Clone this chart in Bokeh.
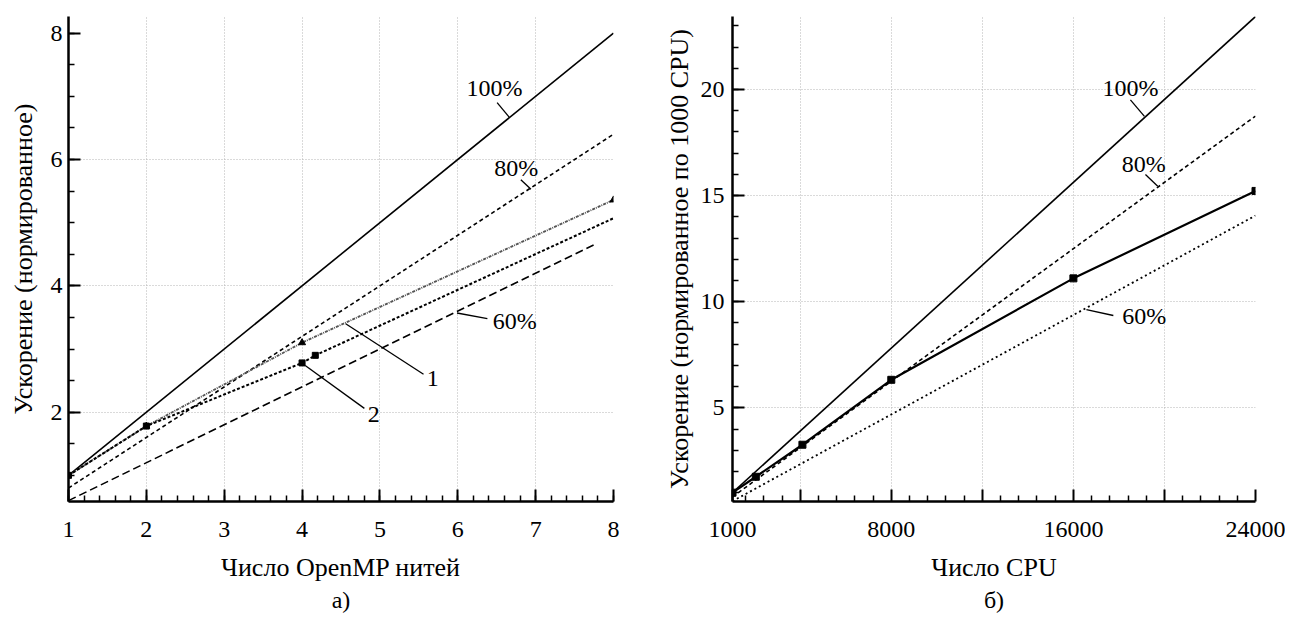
from bokeh.plotting import figure
from bokeh.layouts import row
from bokeh.models import FixedTicker, Title, Range1d
from bokeh.core.properties import value
from bokeh.embed import file_html
from bokeh.resources import INLINE
import numpy as np

FONT = "Liberation Serif"

# ---------------- panel а) : OpenMP threads ----------------
omp_threads_1 = [1, 2, 4, 8]
speedup_1 = [1.0, 1.78, 3.10, 5.36]
omp_threads_2 = [1, 2, 4, 4.17, 8]
speedup_2 = [1.0, 1.78, 2.78, 2.90, 5.07]
ideal_a_x = [1, 8]
ideal_a_100 = [1.0, 8.0]
ideal_a_80 = [0.8, 6.4]
ideal_a_60_x = [1, 7.75]
ideal_a_60 = [0.6, 4.65]
a_xticks = [1, 2, 3, 4, 5, 6, 7, 8]
a_yticks = [2, 4, 6, 8]
a_labels = ["100%", "80%", "60%", "1", "2"]
a_label_x = [6.47, 6.75, 6.73, 5.68, 4.92]
a_label_y = [7.13, 5.86, 3.45, 2.54, 1.97]
a_lead_x0 = [6.505, 6.81, 5.99, 4.56, 4.04]
a_lead_y0 = [6.90, 5.68, 3.57, 3.40, 2.74]
a_lead_x1 = [6.66, 6.94, 6.38, 5.56, 4.80]
a_lead_y1 = [6.67, 5.53, 3.48, 2.60, 2.06]

# ---------------- panel б) : CPU count ----------------
cpu_count = [1024, 2048, 4096, 8000, 16000, 24000]
speedup_cpu = [1.0, 1.75, 3.26, 6.32, 11.1, 15.22]
ideal_b_x = [1024, 24000]
ideal_b_100 = [1.0, 23.44]
ideal_b_80 = [0.8, 18.75]
ideal_b_60 = [0.6, 14.06]
b_xticks = [1024, 4000, 8000, 12000, 16000, 20000, 24000]
b_xtick_labels = {1024: "1000", 4000: "", 8000: "8000", 12000: "", 16000: "16000", 20000: "", 24000: "24000"}
b_yticks = [5, 10, 15, 20]
b_labels = ["100%", "80%", "60%"]
b_label_x = [18505, 19090, 19110]
b_label_y = [20.08, 16.5, 9.35]
b_lead_x0 = [18505, 19165, 16571]
b_lead_y0 = [19.51, 15.99, 9.63]
b_lead_x1 = [19121, 19705, 17754]
b_lead_y1 = [18.73, 15.44, 9.35]


def style_axis(ax, label_standoff, tick_standoff):
    ax.axis_line_width = 2.5
    ax.axis_line_color = "black"
    ax.major_tick_line_width = 2
    ax.major_tick_line_color = "black"
    ax.minor_tick_line_width = 1.5
    ax.minor_tick_line_color = "black"
    ax.major_tick_in = 12
    ax.major_tick_out = 0
    ax.minor_tick_in = 6
    ax.minor_tick_out = 0
    ax.major_label_text_font = FONT
    ax.major_label_text_font_size = "24px"
    ax.major_label_text_color = "black"
    ax.major_label_standoff = tick_standoff
    ax.axis_label_text_font = FONT
    ax.axis_label_text_font_size = "26px"
    ax.axis_label_text_font_style = "normal"
    ax.axis_label_text_color = "black"
    ax.axis_label_standoff = label_standoff


def style_grid(p, xt, yt):
    for g, t in ((p.xgrid, xt), (p.ygrid, yt)):
        g.ticker = FixedTicker(ticks=t)
        g.grid_line_color = "#b5b5b5"
        g.grid_line_dash = "1 2"
        g.grid_line_width = 1


def make_fig(left, frame_w, right, xr, yr):
    p = figure(width=left + frame_w + right, height=615,
               x_range=xr, y_range=yr,
               output_backend="svg", toolbar_location=None,
               min_border_left=left, min_border_right=right,
               min_border_top=16, min_border_bottom=114)
    p.outline_line_color = None
    p.background_fill_color = "white"
    p.border_fill_color = "white"
    return p


def caption(p, txt):
    t = Title(text=txt, align="center", text_font=FONT, text_font_size="24px",
              text_font_style="normal", text_color="black", standoff=0, offset=0)
    p.add_layout(t, "below")


# ---------- left figure ----------
p1 = make_fig(68, 545, 20, Range1d(1, 8), Range1d(0.586, 8.264))
p1.xaxis.ticker = FixedTicker(ticks=a_xticks,
                              minor_ticks=list(np.round(np.arange(1, 8.0001, 0.2), 3)))
p1.yaxis.ticker = FixedTicker(ticks=a_yticks,
                              minor_ticks=list(np.arange(1, 8.001, 0.5)))
p1.xaxis.axis_label = "Число OpenMP нитей"
p1.yaxis.axis_label = "Ускорение (нормированное)"
style_axis(p1.xaxis[0], 13, 20)
style_axis(p1.yaxis[0], 10, 6)
style_grid(p1, a_xticks[1:], a_yticks[:-1])

p1.line(ideal_a_x, ideal_a_100, line_color="black", line_width=1.6)
p1.line(ideal_a_x, ideal_a_80, line_color="black", line_width=1.6, line_dash="4 3")
p1.line(ideal_a_60_x, ideal_a_60, line_color="black", line_width=1.6, line_dash="8 4")
p1.line(omp_threads_1, speedup_1, line_color="#555555", line_width=1.8, line_dash="3 1 1 1")
p1.line(omp_threads_2, speedup_2, line_color="black", line_width=2, line_dash="3 2")
p1.scatter(omp_threads_1[1:], speedup_1[1:], marker="triangle", size=7,
           fill_color="black", line_color="black")
p1.scatter(omp_threads_2[:4], speedup_2[:4], marker="square", size=6,
           fill_color="black", line_color="black")
p1.segment(a_lead_x0, a_lead_y0, a_lead_x1, a_lead_y1, line_color="black", line_width=1.3)
p1.text(a_label_x, a_label_y, text=a_labels, text_font=value(FONT),
        text_font_size="24px", text_align="center", text_baseline="middle",
        text_color="black")
caption(p1, "а)")

# ---------- right figure ----------
p2 = make_fig(99, 523, 30, Range1d(1024, 24000), Range1d(0.585, 23.44))
b_minor = [v for v in range(1600, 24000, 800) if v % 4000 != 0]
p2.xaxis.ticker = FixedTicker(ticks=b_xticks, minor_ticks=b_minor)
p2.xaxis.major_label_overrides = b_xtick_labels
p2.yaxis.ticker = FixedTicker(ticks=b_yticks, minor_ticks=list(range(1, 24)))
p2.xaxis.axis_label = "Число CPU"
p2.yaxis.axis_label = "Ускорение (нормированное по 1000 CPU)"
style_axis(p2.xaxis[0], 13, 20)
style_axis(p2.yaxis[0], 4, 8)
style_grid(p2, b_xticks[1:], b_yticks)

p2.line(ideal_b_x, ideal_b_100, line_color="black", line_width=1.6)
p2.line(ideal_b_x, ideal_b_80, line_color="black", line_width=1.6, line_dash="4 3")
p2.line(ideal_b_x, ideal_b_60, line_color="black", line_width=1.8, line_dash="2 3")
p2.line(cpu_count, speedup_cpu, line_color="black", line_width=2.2)
p2.scatter(cpu_count, speedup_cpu, marker="square", size=7,
           fill_color="black", line_color="black")
p2.segment(b_lead_x0, b_lead_y0, b_lead_x1, b_lead_y1, line_color="black", line_width=1.3)
p2.text(b_label_x, b_label_y, text=b_labels, text_font=value(FONT),
        text_font_size="24px", text_align="center", text_baseline="middle",
        text_color="black")
caption(p2, "б)")

layout = row(p1, p2)
open("out.html", "w").write(file_html(layout, INLINE))
